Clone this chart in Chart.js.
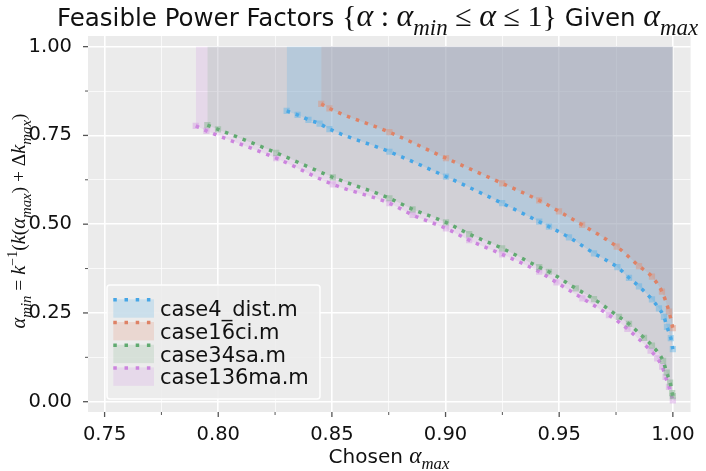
<!DOCTYPE html>
<html><head><meta charset="utf-8">
<script src="https://cdn.jsdelivr.net/npm/chart.js@4.4.0/dist/chart.umd.min.js"></script>
<style>html,body{margin:0;padding:0;background:#fff}#wrap{width:706px;height:471px}</style>
</head><body><div id="wrap"><canvas id="c" width="706" height="471"></canvas></div>
<script>
// ---- data ----
const seriesLabels = ['case4_dist.m', 'case16ci.m', 'case34sa.m', 'case136ma.m'];

const case4X = [0.8301, 0.8349, 0.8397, 0.8446, 0.8489, 0.8753, 0.9002, 0.9249, 0.9412, 0.9455, 0.9543, 0.9653, 0.9756, 0.9807, 0.9851, 0.9908, 0.9939, 0.9961, 0.9974, 0.9991, 1.0];
const case4Y = [0.819, 0.808, 0.794, 0.783, 0.768, 0.704, 0.634, 0.559, 0.507, 0.493, 0.463, 0.418, 0.379, 0.349, 0.325, 0.288, 0.263, 0.239, 0.211, 0.179, 0.148];

const case16X = [0.8453, 0.8489, 0.8753, 0.9002, 0.9249, 0.9412, 0.9499, 0.9601, 0.9753, 0.9851, 0.9908, 0.9952, 0.9983, 1.0];
const case16Y = [0.839, 0.826, 0.759, 0.686, 0.615, 0.567, 0.536, 0.498, 0.437, 0.382, 0.352, 0.310, 0.254, 0.207];

const case34X = [0.7952, 0.7999, 0.8255, 0.8504, 0.8753, 0.8855, 0.9002, 0.9104, 0.9249, 0.9412, 0.9455, 0.9573, 0.9653, 0.9763, 0.9807, 0.9873, 0.9908, 0.9957, 0.9973, 0.9988, 0.9997, 1.0];
const case34Y = [0.779, 0.767, 0.701, 0.632, 0.573, 0.542, 0.505, 0.472, 0.432, 0.379, 0.366, 0.319, 0.289, 0.239, 0.219, 0.180, 0.158, 0.115, 0.082, 0.054, 0.024, 0.016];

const case136X = [0.7901, 0.7948, 0.8255, 0.8504, 0.8753, 0.8855, 0.9002, 0.9104, 0.9249, 0.9412, 0.9488, 0.9602, 0.9719, 0.9800, 0.9902, 0.9931, 0.9953, 0.9968, 0.9983, 1.0];
const case136Y = [0.777, 0.763, 0.686, 0.612, 0.559, 0.526, 0.488, 0.455, 0.415, 0.366, 0.336, 0.291, 0.244, 0.205, 0.144, 0.122, 0.099, 0.070, 0.042, 0.004];

const xMajorTicks = [0.75, 0.80, 0.85, 0.90, 0.95, 1.00];
const xMinorTicks = [0.775, 0.825, 0.875, 0.925, 0.975];
const yMajorTicks = [0.00, 0.25, 0.50, 0.75, 1.00];
const yMinorTicks = [0.125, 0.375, 0.625, 0.875];
const fillTop = 1.0;

// ---- styles ----
const lineColors = ['rgb(70,166,230)', 'rgb(222,130,102)', 'rgb(96,170,112)', 'rgb(204,132,222)'];
const baseColors = [[86,176,230], [226,140,112], [120,176,132], [210,148,226]];
const fillAlpha = [0.22, 0.22, 0.19, 0.22];
const fillColors = baseColors.map((c, i) => `rgba(${c[0]},${c[1]},${c[2]},${fillAlpha[i]})`);
const markColors = baseColors.map(c => `rgba(${c[0]},${c[1]},${c[2]},0.42)`);

const allX = [case4X, case16X, case34X, case136X];
const allY = [case4Y, case16Y, case34Y, case136Y];

const datasets = seriesLabels.map((lab, i) => ({
  label: lab,
  data: allX[i].map((x, j) => ({x: x, y: allY[i][j]})),
  showLine: true,
  borderColor: lineColors[i],
  borderWidth: 3.5,
  borderDash: [3.5, 6],
  borderCapStyle: 'butt',
  cubicInterpolationMode: 'monotone',
  pointStyle: 'rect',
  pointRadius: 4.4,
  pointHoverRadius: 4.4,
  pointBackgroundColor: markColors[i],
  pointBorderWidth: 0,
  pointBorderColor: 'rgba(0,0,0,0)',
  backgroundColor: fillColors[i],
  fill: {value: fillTop}
}));

const SANS = '"DejaVu Sans"';
const SERIF = '"Liberation Serif"';
function runFont(kind, s, m) {
  switch (kind) {
    case 'sans': return `${s}px ${SANS}`;
    case 'rm': return `${s * 1.05 * m}px ${SERIF}`;
    case 'it': return `italic ${s * 1.11 * m}px ${SERIF}`;
    case 'subit': return `italic ${s * 0.8 * m}px ${SERIF}`;
    case 'suprm': return `${s * 0.76 * m}px ${SERIF}`;
  }
}
function drawRich(ctx, runs, x, y, s, align, m) {
  m = m || 1;
  const ws = [];
  runs.forEach(([t, k]) => { ctx.font = runFont(k, s, m); ws.push(ctx.measureText(t).width); });
  const w = ws.reduce((a, b) => a + b, 0);
  let cx = align === 'left' ? x : x - w / 2;
  ctx.textAlign = 'left';
  ctx.textBaseline = 'alphabetic';
  runs.forEach(([t, k], i) => {
    ctx.font = runFont(k, s, m);
    let dy = 0;
    if (k === 'subit') dy = s * 0.3 * m;
    if (k === 'suprm') dy = -s * 0.45 * m;
    ctx.fillText(t, cx, y + dy);
    cx += ws[i];
  });
  return w;
}

const titleRuns = [['Feasible Power Factors ', 'sans'], ['{', 'rm'], ['α', 'it'], [' : ', 'rm'], ['α', 'it'], ['min', 'subit'], [' ≤ ', 'rm'], ['α', 'it'], [' ≤ ', 'rm'], ['1', 'rm'], ['}', 'rm'], [' Given ', 'sans'], ['α', 'it'], ['max', 'subit']];
const xLabelRuns = [['Chosen ', 'sans'], ['α', 'it'], ['max', 'subit']];
const yLabelRuns = [['α', 'it'], ['min', 'subit'], [' = ', 'rm'], ['k', 'it'], ['−1', 'suprm'], ['(', 'rm'], ['k', 'it'], ['(', 'rm'], ['α', 'it'], ['max', 'subit'], [')', 'rm'], [' + ', 'rm'], ['Δ', 'rm'], ['k', 'it'], ['max', 'subit'], [')', 'rm']];

const decor = {
  id: 'decor',
  beforeDraw(chart) {
    const {ctx, chartArea: a} = chart;
    ctx.save();
    ctx.fillStyle = '#fff';
    ctx.fillRect(0, 0, chart.width, chart.height);
    ctx.fillStyle = '#EBEBEB';
    ctx.fillRect(a.left, a.top, a.right - a.left, a.bottom - a.top);
    ctx.restore();
  },
  afterDraw(chart) {
    const {ctx, chartArea: a, scales} = chart;
    ctx.save();
    // tick marks
    ctx.strokeStyle = '#555';
    xMajorTicks.concat(xMinorTicks).forEach(v => {
      const major = xMajorTicks.includes(v);
      const px = scales.x.getPixelForValue(v);
      ctx.lineWidth = major ? 1.3 : 1;
      ctx.beginPath(); ctx.moveTo(px, a.bottom); ctx.lineTo(px, a.bottom + (major ? 5 : 3)); ctx.stroke();
    });
    yMajorTicks.concat(yMinorTicks).forEach(v => {
      const major = yMajorTicks.includes(v);
      const py = scales.y.getPixelForValue(v);
      ctx.lineWidth = major ? 1.3 : 1;
      ctx.beginPath(); ctx.moveTo(a.left, py); ctx.lineTo(a.left - (major ? 5 : 3), py); ctx.stroke();
    });
    // legend
    const lx = 107, ly = 285, lw = 213, lh = 114;
    ctx.fillStyle = 'rgba(236,236,236,0.9)';
    ctx.strokeStyle = 'rgba(255,255,255,0.95)';
    ctx.lineWidth = 1.5;
    ctx.beginPath(); ctx.roundRect(lx, ly, lw, lh, 3); ctx.fill(); ctx.stroke();
    seriesLabels.forEach((lab, i) => {
      const top = 299.3 + i * 22.7;
      ctx.fillStyle = fillColors[i];
      ctx.fillRect(113.3, top, 40.7, 18.4);
      ctx.strokeStyle = lineColors[i];
      ctx.lineWidth = 3.5;
      ctx.setLineDash([3.5, 7.7]);
      ctx.lineCap = 'butt';
      ctx.beginPath(); ctx.moveTo(113.3, top + 0.5); ctx.lineTo(154, top + 0.5); ctx.stroke();
      ctx.setLineDash([]);
      ctx.fillStyle = '#111';
      ctx.font = `21px ${SANS}`;
      ctx.textAlign = 'left';
      ctx.textBaseline = 'alphabetic';
      ctx.fillText(lab, 160, top + 17);
    });
    // titles
    ctx.fillStyle = '#111';
    drawRich(ctx, titleRuns, 57, 26, 24.5, 'left', 1.17);
    drawRich(ctx, xLabelRuns, 389, 463, 20, 'center', 1.05);
    ctx.translate(25, 221);
    ctx.rotate(-Math.PI / 2);
    drawRich(ctx, yLabelRuns, 0, 0, 18.5, 'center', 1.0);
    ctx.restore();
  }
};

const isMajor = (majors, v) => majors.some(m => Math.abs(m - v) < 1e-9);
const gridColor = (majors) => (c) => (c.tick && isMajor(majors, c.tick.value)) ? '#FFFFFF' : 'rgba(255,255,255,0.75)';
const gridWidth = (majors) => (c) => (c.tick && isMajor(majors, c.tick.value)) ? 1.6 : 0.9;
const tickLabel = (majors) => (v) => isMajor(majors, v) ? Number(v).toFixed(2) : '';

new Chart(document.getElementById('c'), {
  type: 'scatter',
  data: {datasets},
  plugins: [decor],
  options: {
    responsive: false,
    animation: false,
    devicePixelRatio: 1,
    layout: {padding: {top: 36, right: 15, left: 0, bottom: 0}},
    plugins: {
      legend: {display: false},
      tooltip: {enabled: false},
      filler: {drawTime: 'beforeDatasetsDraw'}
    },
    scales: {
      x: {
        type: 'linear', min: 0.7427, max: 1.0078,
        afterBuildTicks: s => { s.ticks = xMajorTicks.concat(xMinorTicks).sort((a, b) => a - b).map(v => ({value: v})); },
        afterFit: s => { s.height = 59; },
        border: {display: false},
        grid: {color: gridColor(xMajorTicks), lineWidth: gridWidth(xMajorTicks), drawTicks: false},
        ticks: {callback: tickLabel(xMajorTicks), autoSkip: false, maxRotation: 0, padding: 11, color: '#111', font: {family: 'DejaVu Sans', size: 19.5}}
      },
      y: {
        type: 'linear', min: -0.029, max: 1.030,
        afterBuildTicks: s => { s.ticks = yMajorTicks.concat(yMinorTicks).sort((a, b) => a - b).map(v => ({value: v})); },
        afterFit: s => { s.width = 88; },
        border: {display: false},
        grid: {color: gridColor(yMajorTicks), lineWidth: gridWidth(yMajorTicks), drawTicks: false},
        ticks: {callback: tickLabel(yMajorTicks), autoSkip: false, padding: 16, color: '#111', font: {family: 'DejaVu Sans', size: 19.5}}
      }
    }
  }
});
</script>
</body></html>
